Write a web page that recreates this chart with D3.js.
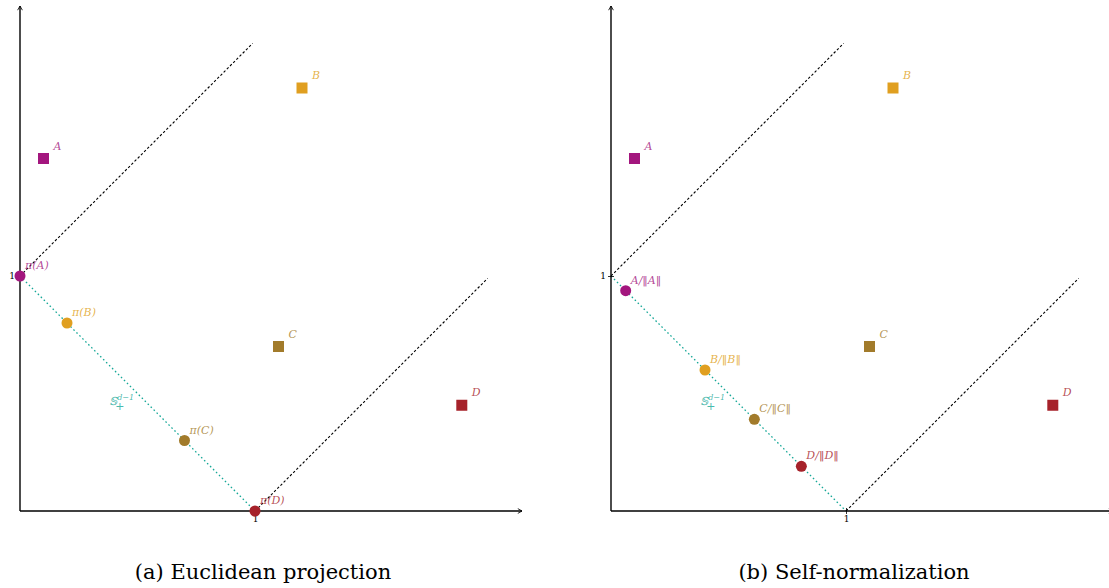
<!DOCTYPE html>
<html>
<head>
<meta charset="utf-8">
<script src="https://cdn.jsdelivr.net/npm/d3@7"></script>
<style>
  body { margin: 0; background: #fff; }
  svg { display: block; }
  .lbl { font-family: "DejaVu Serif", "Liberation Serif", serif; font-style: italic; font-size: 11px; }
  .nrm { font-family: "DejaVu Sans", sans-serif; font-style: normal; }
  .cap { font-family: "DejaVu Serif", "Liberation Serif", serif; font-size: 21px; }
  .tick text { font-family: "DejaVu Serif", serif; font-size: 9px; fill: #000; }
</style>
</head>
<body>
<svg id="chart" width="1109" height="588"></svg>
<script>
const names = ["A", "B", "C", "D"];
const colors = ["#a3167e", "#e09f20", "#a27b2b", "#a6222a"];
// raw points (both panels)
const pointX = [0.10, 1.20, 1.10, 1.88];
const pointY = [1.50, 1.80, 0.70, 0.45];
// panel (a): euclidean projection onto the simplex
const projX = [0.00, 0.20, 0.70, 1.00];
const projY = [1.00, 0.80, 0.30, 0.00];
// panel (b): self-normalization
const normX = [0.0625, 0.40, 0.61, 0.81];
const normY = [0.9375, 0.60, 0.39, 0.19];
const captions = ["(a) Euclidean projection", "(b) Self-normalization"];

const teal = "#17a898";
const svg = d3.select("#chart");
const defs = svg.append("defs");
defs.append("marker")
  .attr("id", "arrow").attr("viewBox", "0 -5 10 10")
  .attr("refX", 8).attr("refY", 0)
  .attr("markerWidth", 6).attr("markerHeight", 6)
  .attr("markerUnits", "userSpaceOnUse")
  .attr("orient", "auto")
  .append("path").attr("fill", "none").attr("stroke", "#000").attr("stroke-width", 1.4)
  .attr("d", "M1,-4L8,0L1,4");

// label writers for the two kinds of moved points
function projLabel(t, n) {
  t.append("tspan").text("π(");
  t.append("tspan").text(n);
  t.append("tspan").text(")");
}
function normLabel(t, n) {
  t.append("tspan").text(n + "/");
  t.append("tspan").attr("class", "nrm").text("‖");
  t.append("tspan").text(n);
  t.append("tspan").attr("class", "nrm").text("‖");
}

const panels = [
  { x0: 20, px: projX, py: projY, label: projLabel },
  { x0: 611, px: normX, py: normY, label: normLabel }
];

panels.forEach((p, idx) => {
  const x = d3.scaleLinear().domain([0, 1]).range([p.x0, p.x0 + 235]);
  const y = d3.scaleLinear().domain([0, 1]).range([511, 276]);
  const g = svg.append("g");

  // dashed guide lines
  const guides = [
    [[0, 1], [0.99, 1.99]],
    [[1, 0], [1.99, 0.99]]
  ];
  guides.forEach((seg) => {
    g.append("line")
      .attr("x1", x(seg[0][0])).attr("y1", y(seg[0][1]))
      .attr("x2", x(seg[1][0])).attr("y2", y(seg[1][1]))
      .attr("stroke", "#000").attr("stroke-width", 1.1)
      .attr("stroke-dasharray", "2.5,2");
  });

  // simplex
  g.append("line")
    .attr("x1", x(0)).attr("y1", y(1))
    .attr("x2", x(1)).attr("y2", y(0))
    .attr("stroke", teal).attr("stroke-width", 1.3)
    .attr("stroke-dasharray", "1.6,2.6");

  const sx = x(0.38), sy = y(0.45);
  g.append("text").attr("class", "lbl")
    .attr("x", sx).attr("y", sy)
    .attr("fill", teal).attr("fill-opacity", 0.8)
    .attr("font-style", "normal")
    .text("𝕊")
    .append("tspan").attr("dy", -5).attr("font-size", 8).attr("font-style", "italic").text("d−1");
  g.append("text").attr("class", "lbl")
    .attr("x", sx + 6).attr("y", sy + 5)
    .attr("fill", teal).attr("fill-opacity", 0.8)
    .attr("font-size", 9).attr("font-style", "normal").text("+");

  // axes
  const xAxis = d3.axisBottom(x).tickValues([1]).tickFormat(d3.format("d"))
    .tickSizeInner(6).tickSizeOuter(0).tickPadding(2);
  const xg = g.append("g").attr("transform", "translate(0,508)").call(xAxis);
  xg.select(".domain").remove();
  xg.selectAll(".tick line").attr("stroke-width", 0.8);

  const yAxis = d3.axisLeft(y).tickValues([1]).tickFormat(d3.format("d"))
    .tickSizeInner(6).tickSizeOuter(0).tickPadding(2);
  const yg = g.append("g").attr("transform", `translate(${p.x0 + 3},0)`).call(yAxis);
  yg.select(".domain").remove();
  yg.selectAll(".tick line").attr("stroke-width", 0.8);

  g.append("line")
    .attr("x1", x(0)).attr("y1", y(0))
    .attr("x2", x(0) + 502).attr("y2", y(0))
    .attr("stroke", "#000").attr("stroke-width", 1.4)
    .attr("marker-end", "url(#arrow)");
  g.append("line")
    .attr("x1", x(0)).attr("y1", y(0))
    .attr("x2", x(0)).attr("y2", 6)
    .attr("stroke", "#000").attr("stroke-width", 1.4)
    .attr("marker-end", "url(#arrow)");

  // raw points
  names.forEach((n, i) => {
    g.append("rect")
      .attr("x", x(pointX[i]) - 5.5).attr("y", y(pointY[i]) - 5.5)
      .attr("width", 11).attr("height", 11)
      .attr("fill", colors[i]);
    g.append("text").attr("class", "lbl")
      .attr("x", x(pointX[i]) + 10).attr("y", y(pointY[i]) - 9)
      .attr("fill", colors[i]).attr("fill-opacity", 0.8)
      .text(n);
  });

  // projected / normalized points
  names.forEach((n, i) => {
    g.append("circle")
      .attr("cx", x(p.px[i])).attr("cy", y(p.py[i]))
      .attr("r", 5.5)
      .attr("fill", colors[i]);
    const t = g.append("text").attr("class", "lbl")
      .attr("x", x(p.px[i]) + 5).attr("y", y(p.py[i]) - 7)
      .attr("fill", colors[i]).attr("fill-opacity", 0.8);
    p.label(t, n);
  });

  svg.append("text").attr("class", "cap")
    .attr("x", x(0) + 243).attr("y", 579)
    .attr("text-anchor", "middle")
    .text(captions[idx]);
});
</script>
</body>
</html>
